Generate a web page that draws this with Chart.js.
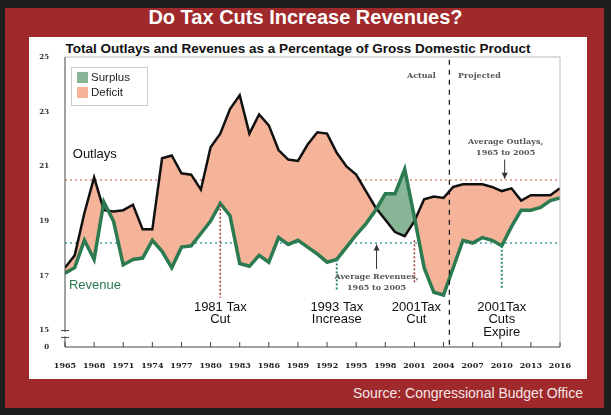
<!DOCTYPE html>
<html>
<head>
<meta charset="utf-8">
<script src="https://cdn.jsdelivr.net/npm/chart.js@4"></script>
<style>
  body { margin: 0; background: #1e1e1e; width: 611px; height: 415px; overflow: hidden; font-family: "Liberation Sans", Arial, sans-serif; }
  #red { position: absolute; left: 5px; top: 8px; width: 599px; height: 400px; background: #a0292b; }
  #white { position: absolute; left: 29px; top: 37px; width: 558px; height: 342px; background: #fff; }
  #title { position: absolute; left: 0; width: 611px; top: 6px; text-align: center; color: #fff; font-weight: bold; font-size: 20px; }
  #subtitle { position: absolute; left: 0; width: 596px; top: 41px; text-align: center; color: #111; font-weight: bold; font-size: 13.5px; }
  #source { position: absolute; right: 28px; top: 385px; color: #f3e6e6; font-size: 14px; }
  canvas { position: absolute; left: 0; top: 0; }
</style>
</head>
<body>
<div id="red"></div>
<div id="white"></div>
<div id="title">Do Tax Cuts Increase Revenues?</div>
<div id="subtitle">Total Outlays and Revenues as a Percentage of Gross Domestic Product</div>
<div id="source">Source: Congressional Budget Office</div>
<canvas id="chart" width="611" height="415"></canvas>
<script>
// years 1965 .. 2016
const years = [];
for (let y = 1965; y <= 2016; y++) years.push(y);

const outlays = [17.3, 17.75, 19.3, 20.6, 19.4, 19.35, 19.4, 19.6, 18.7, 18.7,
  21.3, 21.4, 20.75, 20.7, 20.15, 21.7, 22.2, 23.1, 23.6, 22.2,
  22.9, 22.5, 21.6, 21.25, 21.2, 21.8, 22.25, 22.2, 21.5, 21.0,
  20.7, 20.1, 19.5, 19.05, 18.6, 18.45, 19.0, 19.8, 19.9, 19.85,
  20.25, 20.35, 20.35, 20.35, 20.25, 20.1, 20.2, 19.75, 19.95, 19.95,
  19.95, 20.2];

const revenues = [17.1, 17.3, 18.3, 17.6, 19.7, 19.0, 17.4, 17.6, 17.65, 18.3,
  17.9, 17.3, 18.05, 18.1, 18.55, 19.0, 19.65, 19.2, 17.45, 17.35,
  17.75, 17.5, 18.4, 18.15, 18.3, 18.05, 17.8, 17.5, 17.6, 18.05,
  18.5, 18.9, 19.4, 20.0, 20.0, 20.9, 19.15, 17.3, 16.4, 16.3,
  17.3, 18.3, 18.2, 18.4, 18.3, 18.1, 18.8, 19.4, 19.4, 19.5,
  19.75, 19.85];

const avgOutlays = 20.5;
const avgRevenues = 18.2;
const yTicks = [15, 17, 19, 21, 23, 25];
const yBreak = 14.4;   // bottom of the broken axis, labelled "0"

const deficitColor = '#f5b39a';
const surplusColor = '#88b596';
const revenueColor = '#2b7a50';

const pts = arr => arr.map((v, i) => ({ x: years[i], y: v }));

const annotations = {
  id: 'annotations',
  afterDatasetsDraw(chart) {
    const c = chart.ctx, xs = chart.scales.x, ys = chart.scales.y, a = chart.chartArea;
    const X = v => xs.getPixelForValue(v), Y = v => ys.getPixelForValue(v);
    c.save();
    // frame
    c.strokeStyle = '#bbb'; c.lineWidth = 1;
    c.beginPath(); c.moveTo(a.left, a.top); c.lineTo(a.right, a.top); c.lineTo(a.right, a.bottom); c.stroke();
    c.strokeStyle = '#444';
    c.beginPath(); c.moveTo(a.left, a.top); c.lineTo(a.left, a.bottom); c.lineTo(a.right, a.bottom); c.stroke();
    // x tick marks inward
    for (let y = 1965; y <= 2016; y += 3) {
      c.beginPath(); c.moveTo(X(y), a.bottom); c.lineTo(X(y), a.bottom - 5); c.stroke();
    }
    // axis break
    c.beginPath(); c.moveTo(a.left - 4, Y(15)); c.lineTo(a.left + 4, Y(15));
    c.moveTo(a.left - 4, Y(14.75)); c.lineTo(a.left + 4, Y(14.75)); c.stroke();
    c.fillStyle = '#fff'; c.fillRect(a.left - 1, Y(14.95), 3, Y(14.75) - Y(14.95) - 1);

    // vertical helper lines
    const vline = (x, y0, y1, color, dash, w) => {
      c.strokeStyle = color; c.lineWidth = w; c.setLineDash(dash);
      c.beginPath(); c.moveTo(X(x), Y(y0)); c.lineTo(X(x), Y(y1)); c.stroke();
    };
    vline(1981, 19.6, 16.2, '#a33', [2, 2], 1.5);
    vline(1993, 17.6, 16.45, '#2a8a7a', [2, 2], 2);
    vline(2001, 18.3, 16.7, '#a33', [2, 2], 1.5);
    vline(2010, 18.1, 16.5, '#2a8a7a', [2, 2], 2);
    vline(2004.6, 24.9, yBreak, '#111', [5, 5], 1.2);
    c.setLineDash([]);

    // text
    const txt = (s, x, y, font, color, align) => {
      c.font = font; c.fillStyle = color; c.textAlign = align || 'center'; c.textBaseline = 'middle';
      c.fillText(s, X(x), Y(y));
    };
    const big = '13px "Liberation Sans", Arial, sans-serif';
    txt('Outlays', 1965.8, 21.45, big, '#111', 'left');
    txt('Revenue', 1965.4, 16.65, big, revenueColor, 'left');
    txt('1981 Tax', 1981, 15.85, big, '#111'); txt('Cut', 1981, 15.4, big, '#111');
    txt('1993 Tax', 1993, 15.85, big, '#111'); txt('Increase', 1993, 15.4, big, '#111');
    txt('2001Tax', 2001.2, 15.85, big, '#111'); txt('Cut', 2001.2, 15.4, big, '#111');
    txt('2001Tax', 2010, 15.85, big, '#111'); txt('Cuts', 2010, 15.4, big, '#111'); txt('Expire', 2010, 14.95, big, '#111');
    const small = 'bold 8px "DejaVu Serif", serif';
    txt('Actual', 2003.2, 24.3, small, '#555', 'right');
    txt('Projected', 2005.5, 24.3, small, '#555', 'left');
    txt('Average Outlays,', 2010.4, 21.9, small, '#555');
    txt('1965 to 2005', 2010.4, 21.5, small, '#555');
    txt('Average Revenues,', 1997.1, 16.95, small, '#555');
    txt('1965 to 2005', 1997.1, 16.55, small, '#555');

    // arrows
    const arrow = (x, y0, y1) => {
      c.strokeStyle = '#333'; c.fillStyle = '#333'; c.lineWidth = 1;
      const px = X(x), p0 = Y(y0), p1 = Y(y1), d = p1 > p0 ? 1 : -1;
      c.beginPath(); c.moveTo(px, p0); c.lineTo(px, p1); c.stroke();
      c.beginPath(); c.moveTo(px, p1); c.lineTo(px - 3, p1 - 6 * d); c.lineTo(px + 3, p1 - 6 * d); c.fill();
    };
    arrow(2010.3, 21.25, 20.55);
    arrow(1997.1, 17.25, 18.15);

    // legend
    c.fillStyle = '#fff'; c.strokeStyle = '#ccc'; c.lineWidth = 1;
    c.fillRect(71.5, 67.5, 76, 38); c.strokeRect(71.5, 67.5, 76, 38);
    c.fillStyle = surplusColor; c.fillRect(77, 72, 11, 11);
    c.fillStyle = deficitColor; c.fillRect(77, 87, 11, 11);
    c.font = '11.5px "Liberation Sans", Arial, sans-serif'; c.fillStyle = '#222'; c.textAlign = 'left'; c.textBaseline = 'middle';
    c.fillText('Surplus', 91, 78); c.fillText('Deficit', 91, 93);
    c.restore();
  }
};

new Chart(document.getElementById('chart'), {
  type: 'line',
  data: {
    datasets: [
      {
        label: 'Outlays', data: pts(outlays), borderColor: '#111', borderWidth: 2.5,
        pointRadius: 0, tension: 0, order: 1,
        fill: { target: 1, above: deficitColor, below: surplusColor }
      },
      {
        label: 'Revenue', data: pts(revenues), borderColor: revenueColor, borderWidth: 3.5,
        pointRadius: 0, tension: 0, fill: false, order: 0
      },
      {
        label: 'Avg Outlays', data: [{ x: 1965, y: avgOutlays }, { x: 2016, y: avgOutlays }],
        borderColor: '#d98a80', borderWidth: 1.5, borderDash: [2, 3], pointRadius: 0, fill: false, order: 3
      },
      {
        label: 'Avg Revenues', data: [{ x: 1965, y: avgRevenues }, { x: 2016, y: avgRevenues }],
        borderColor: '#4aa0a8', borderWidth: 1.5, borderDash: [2, 3], pointRadius: 0, fill: false, order: 3
      }
    ]
  },
  options: {
    responsive: false, animation: false,
    layout: { padding: { left: 29, top: 57, right: 51, bottom: 36 } },
    plugins: { legend: { display: false }, tooltip: { enabled: false } },
    scales: {
      x: {
        type: 'linear', min: 1965, max: 2016,
        afterBuildTicks: s => { s.ticks = []; for (let y = 1965; y <= 2016; y += 3) s.ticks.push({ value: y }); },
        afterFit: s => { s.height = 32; },
        grid: { display: false }, border: { display: false },
        ticks: { color: '#222', font: { family: 'DejaVu Serif', size: 8, weight: 'bold' }, maxRotation: 0, padding: 6, callback: v => String(v) }
      },
      y: {
        type: 'linear', min: yBreak, max: 25,
        afterBuildTicks: s => { s.ticks = [{ value: yBreak }].concat(yTicks.map(v => ({ value: v }))); },
        afterFit: s => { s.width = 36; },
        grid: { display: false }, border: { display: false },
        ticks: { color: '#333', font: { family: 'DejaVu Serif', size: 7, weight: 'bold' }, padding: 8,
          callback: v => v === yBreak ? '0' : String(v) }
      }
    }
  },
  plugins: [annotations]
});
</script>
</body>
</html>
